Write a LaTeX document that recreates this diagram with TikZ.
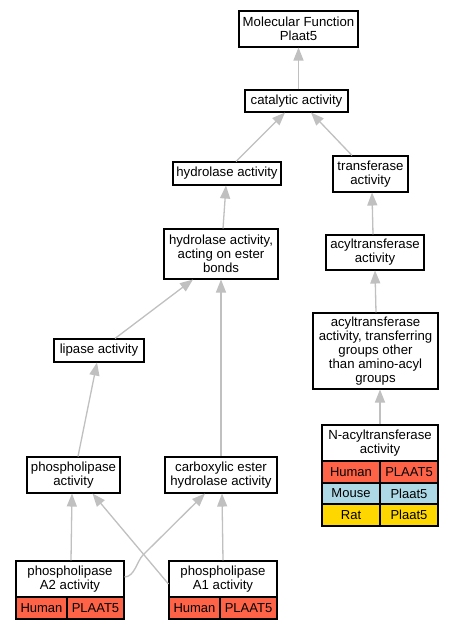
\documentclass[tikz,border=0pt]{standalone}
\usepackage{fontspec}
\setmainfont{Liberation Sans}
\usetikzlibrary{arrows.meta}
\definecolor{edgec}{RGB}{192,192,192}
\definecolor{human}{RGB}{255,99,71}
\definecolor{mouse}{RGB}{173,216,230}
\definecolor{rat}{RGB}{255,215,0}
\begin{document}
\begin{tikzpicture}[x=1pt,y=-1pt,
  box/.style={draw=black, line width=1.05pt, fill=white, inner sep=0pt, align=center,
              font=\fontsize{13.2}{13.9}\selectfont},
  cell/.style={box, font=\fontsize{13}{13.9}\selectfont},
  edge/.style={draw=edgec, line width=1.3pt, -{Triangle[length=13pt,width=10pt]}}]
\fill[white] (0,0) rectangle (453,629);
\useasboundingbox (0,0) rectangle (453,629);

% nodes
\node[box, minimum width=119pt, minimum height=36pt] (mf) at (298.5,29) {Molecular Function\\Plaat5};
\node[box, minimum width=103pt, minimum height=22pt] (cat) at (296.5,101) {catalytic activity};
\node[box, minimum width=108pt, minimum height=23pt] (hyd) at (227,173.5) {hydrolase activity};
\node[box, minimum width=114pt, minimum height=50pt] (hest) at (221,254) {hydrolase activity,\\acting on ester\\bonds};
\node[box, minimum width=75pt, minimum height=36pt] (tr) at (370.5,174) {transferase\\activity};
\node[box, minimum width=98pt, minimum height=35pt] (acyl) at (375,252.5) {acyltransferase\\activity};
\node[box, minimum width=125pt, minimum height=76pt] (acylt) at (375.5,351) {acyltransferase\\activity, transferring\\groups other\\than amino-acyl\\groups};
\node[box, minimum width=90pt, minimum height=23pt] (lip) at (99,350.5) {lipase activity};
\node[box, minimum width=93pt, minimum height=36pt] (plip) at (73.5,475) {phospholipase\\activity};
\node[box, minimum width=112pt, minimum height=36pt] (carb) at (221,475) {carboxylic ester\\hydrolase activity};

% N-acyltransferase table
\node[box, minimum width=116pt, minimum height=36pt] (nac) at (380,443) {N-acyltransferase\\activity};
\node[cell, fill=human, minimum width=58pt, minimum height=22pt] (nach) at (351,472) {Human};
\node[cell, fill=human, minimum width=58pt, minimum height=22pt] (nachg) at (409,472) {PLAAT5};
\node[cell, fill=mouse, minimum width=58pt, minimum height=21pt] (nacm) at (351,493.5) {Mouse};
\node[cell, fill=mouse, minimum width=58pt, minimum height=21pt] (nacmg) at (409,493.5) {Plaat5};
\node[cell, fill=rat, minimum width=58pt, minimum height=22pt] (nacr) at (351,515) {Rat};
\node[cell, fill=rat, minimum width=58pt, minimum height=22pt] (nacrg) at (409,515) {Plaat5};

% phospholipase A2 table
\node[box, minimum width=108pt, minimum height=36pt] (a2) at (70,579) {phospholipase\\A2 activity};
\node[cell, fill=human, minimum width=51pt, minimum height=22pt] (a2s) at (41.5,608) {Human};
\node[cell, fill=human, minimum width=57pt, minimum height=22pt] (a2g) at (95.5,608) {PLAAT5};

% phospholipase A1 table
\node[box, minimum width=108pt, minimum height=36pt] (a1) at (223,579) {phospholipase\\A1 activity};
\node[cell, fill=human, minimum width=51pt, minimum height=22pt] (a1s) at (194.5,608) {Human};
\node[cell, fill=human, minimum width=57pt, minimum height=22pt] (a1g) at (248.5,608) {PLAAT5};

% edges
\draw[edge] (cat.north -| mf.south) -- (mf.south);
\draw[edge] ([xshift=9pt]hyd.north) -- ([xshift=-11.5pt]cat.south);
\draw[edge] ([xshift=-18.5pt]tr.north) -- ([xshift=14.5pt]cat.south);
\draw[edge] ([xshift=2pt]hest.north) -- ([xshift=-1pt]hyd.south);
\draw[edge] ([xshift=-2pt]acyl.north) -- ([xshift=1.5pt]tr.south);
\draw[edge] ([xshift=0.5pt]acylt.north) -- (acyl.south);
\draw[edge] (nac.north) -- (acylt.south -| nac.north);
\draw[edge] ([xshift=16pt]lip.north) -- ([xshift=-28pt]hest.south);
\draw[edge] (carb.north) -- (hest.south);
\draw[edge] ([xshift=4.5pt]plip.north) -- ([xshift=-2pt]lip.south);
\draw[edge] ([xshift=1pt]a2.north) -- ([xshift=-1.5pt]plip.south);
\draw[edge] ([yshift=2pt]a2.east) .. controls +(10,0) and (137,561) .. (143,555) -- ([xshift=-16pt]carb.south);
\draw[edge] ([yshift=-5pt]a1.west) -- ([xshift=19pt]plip.south);
\draw[edge] (a1.north) -- ([xshift=1pt]carb.south);
\end{tikzpicture}
\end{document}
